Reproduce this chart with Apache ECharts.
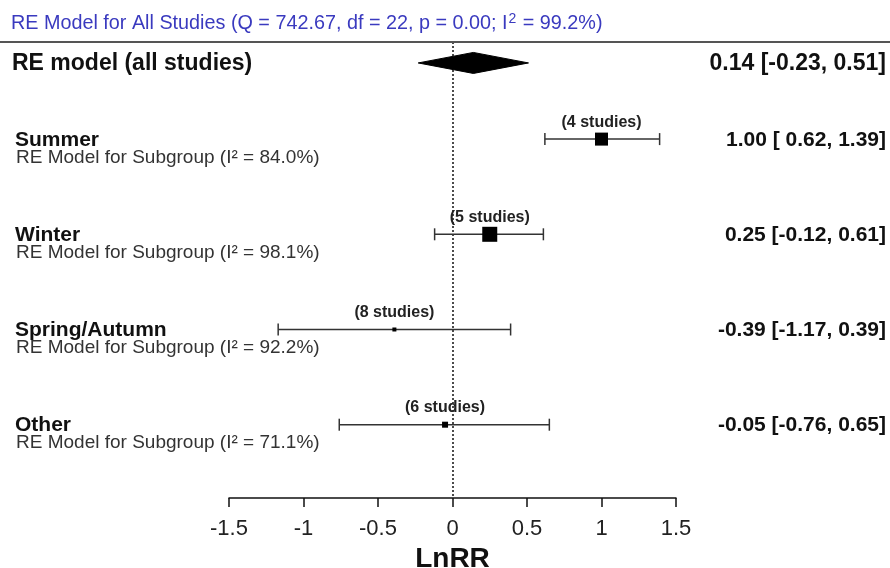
<!DOCTYPE html>
<html>
<head>
<meta charset="utf-8">
<script src="https://cdn.jsdelivr.net/npm/echarts@6/dist/echarts.min.js"></script>
<style>html,body{margin:0;padding:0;background:#fff}#chart{width:890px;height:568px}</style>
</head>
<body>
<div id="chart"></div>
<script>
// ---- data ----
const groups = ['Summer', 'Winter', 'Spring/Autumn', 'Other'];
const estimates = [1.00, 0.25, -0.39, -0.05];
const lowerCI = [0.62, -0.12, -1.17, -0.76];
const upperCI = [1.39, 0.61, 0.39, 0.65];
const studyCounts = [4, 5, 8, 6];
const i2Values = ['84.0', '98.1', '92.2', '71.1'];
const markerWeights = [13, 15, 4, 6];
const rowPositions = [1, 2, 3, 4];

const overallLabel = 'RE model (all studies)';
const overallEst = [0.14];
const overallLower = [-0.23];
const overallUpper = [0.51];
const overallRow = [0.2];
const overallQ = '742.67', overallDf = '22', overallP = '0.00', overallI2 = '99.2';

const xTicks = [-1.5, -1, -0.5, 0, 0.5, 1, 1.5];

const FONT = '"Liberation Sans", Arial, sans-serif';

function fmt(v) { return v.toFixed(2); }
function ciText(e, lo, hi) {
  return fmt(e) + ' [' + (lo >= 0 ? ' ' : '') + fmt(lo) + ', ' + fmt(hi) + ']';
}

const chart = echarts.init(document.getElementById('chart'), null, {renderer: 'canvas'});

const groupData = groups.map((g, i) => [estimates[i], rowPositions[i], lowerCI[i], upperCI[i]]);
const overallData = overallEst.map((e, i) => [e, overallRow[i], overallLower[i], overallUpper[i]]);

function renderGroup(params, api) {
  const i = params.dataIndex;
  const est = api.value(0), row = api.value(1), lo = api.value(2), hi = api.value(3);
  const pE = api.coord([est, row]);
  const pL = api.coord([lo, row]);
  const pH = api.coord([hi, row]);
  const y = pE[1];
  const s = markerWeights[i];
  const lineStyle = {stroke: '#333', lineWidth: 1.5};
  return {
    type: 'group',
    children: [
      {type: 'line', shape: {x1: pL[0], y1: y, x2: pH[0], y2: y}, style: lineStyle},
      {type: 'line', shape: {x1: pL[0], y1: y - 6, x2: pL[0], y2: y + 6}, style: lineStyle},
      {type: 'line', shape: {x1: pH[0], y1: y - 6, x2: pH[0], y2: y + 6}, style: lineStyle},
      {type: 'rect', shape: {x: pE[0] - s / 2, y: y - s / 2, width: s, height: s}, style: {fill: '#000'}},
      {type: 'text', style: {text: '(' + studyCounts[i] + ' studies)', x: pE[0], y: y - 17,
        align: 'center', verticalAlign: 'middle', font: 'bold 16px ' + FONT, fill: '#222'}},
      {type: 'text', style: {text: groups[i], x: 15, y: y + 1,
        align: 'left', verticalAlign: 'middle', font: 'bold 21px ' + FONT, fill: '#111'}},
      {type: 'text', style: {text: 'RE Model for Subgroup (I\u00B2 = ' + i2Values[i] + '%)', x: 16, y: y + 18.5,
        align: 'left', verticalAlign: 'middle', font: '19px ' + FONT, fill: '#333'}},
      {type: 'text', style: {text: ciText(est, lo, hi), x: 886, y: y + 1,
        align: 'right', verticalAlign: 'middle', font: 'bold 21px ' + FONT, fill: '#111'}}
    ]
  };
}

function renderOverall(params, api) {
  const est = api.value(0), row = api.value(1), lo = api.value(2), hi = api.value(3);
  const pE = api.coord([est, row]);
  const pL = api.coord([lo, row]);
  const pH = api.coord([hi, row]);
  const y = pE[1];
  const h = 10.5;
  return {
    type: 'group',
    children: [
      {type: 'polygon', shape: {points: [[pL[0], y], [pE[0], y - h], [pH[0], y], [pE[0], y + h]]},
        style: {fill: '#000', stroke: '#000', lineWidth: 1}},
      {type: 'text', style: {text: overallLabel, x: 12, y: y + 1,
        align: 'left', verticalAlign: 'middle', font: 'bold 23px ' + FONT, fill: '#111'}},
      {type: 'text', style: {text: ciText(est, lo, hi), x: 886, y: y + 1,
        align: 'right', verticalAlign: 'middle', font: 'bold 23px ' + FONT, fill: '#111'}}
    ]
  };
}

const option = {
  animation: false,
  backgroundColor: '#fff',
  title: {
    left: 6, top: 7,
    text: '{a|RE Model for All Studies (Q = ' + overallQ + ', df = ' + overallDf + ', p = ' + overallP + '; I}{s|2}{a| = ' + overallI2 + '%)}',
    textStyle: {
      fontWeight: 'normal',
      rich: {
        a: {fontFamily: FONT, fontSize: 19.8, fontWeight: 'normal', color: '#3a3abf'},
        s: {fontFamily: FONT, fontSize: 14, fontWeight: 'normal', color: '#3a3abf', verticalAlign: 'top', padding: [0, 1, 9, 1]}
      }
    }
  },
  grid: {left: 229, right: 214, top: 42, bottom: 70, containLabel: false, outerBoundsMode: 'none'},
  xAxis: {
    type: 'value', min: -1.5, max: 1.5, interval: 0.5,
    splitLine: {show: false},
    axisLine: {show: true, onZero: false, lineStyle: {color: '#111', width: 1.5}},
    axisTick: {show: true, inside: false, length: 9, lineStyle: {color: '#111', width: 1.5}},
    axisLabel: {
      margin: 20, fontFamily: FONT, fontSize: 22, color: '#222',
      formatter: v => { const t = xTicks.find(x => Math.abs(x - v) < 1e-9); return t === undefined ? '' : String(t); }
    },
    name: 'LnRR', nameLocation: 'middle', nameGap: 42,
    nameTextStyle: {fontFamily: FONT, fontSize: 28, fontWeight: 'bold', color: '#111'}
  },
  yAxis: {
    type: 'value', min: -0.02, max: 4.77, inverse: true, show: false
  },
  graphic: [
    {type: 'line', shape: {x1: 0, y1: 42, x2: 890, y2: 42}, style: {stroke: '#555', lineWidth: 2}, z: 10}
  ],
  series: [
    {
      type: 'custom', name: 'overall', renderItem: renderOverall, data: overallData, clip: false,
      encode: {x: 0, y: 1}, z: 5,
      markLine: {
        silent: true, symbol: 'none', label: {show: false},
        lineStyle: {color: '#111', type: [2, 2], width: 1.5},
        data: [{xAxis: 0}]
      }
    },
    {
      type: 'custom', name: 'subgroups', renderItem: renderGroup, data: groupData, clip: false,
      encode: {x: 0, y: 1}, z: 5
    }
  ]
};
chart.setOption(option);
</script>
</body>
</html>
